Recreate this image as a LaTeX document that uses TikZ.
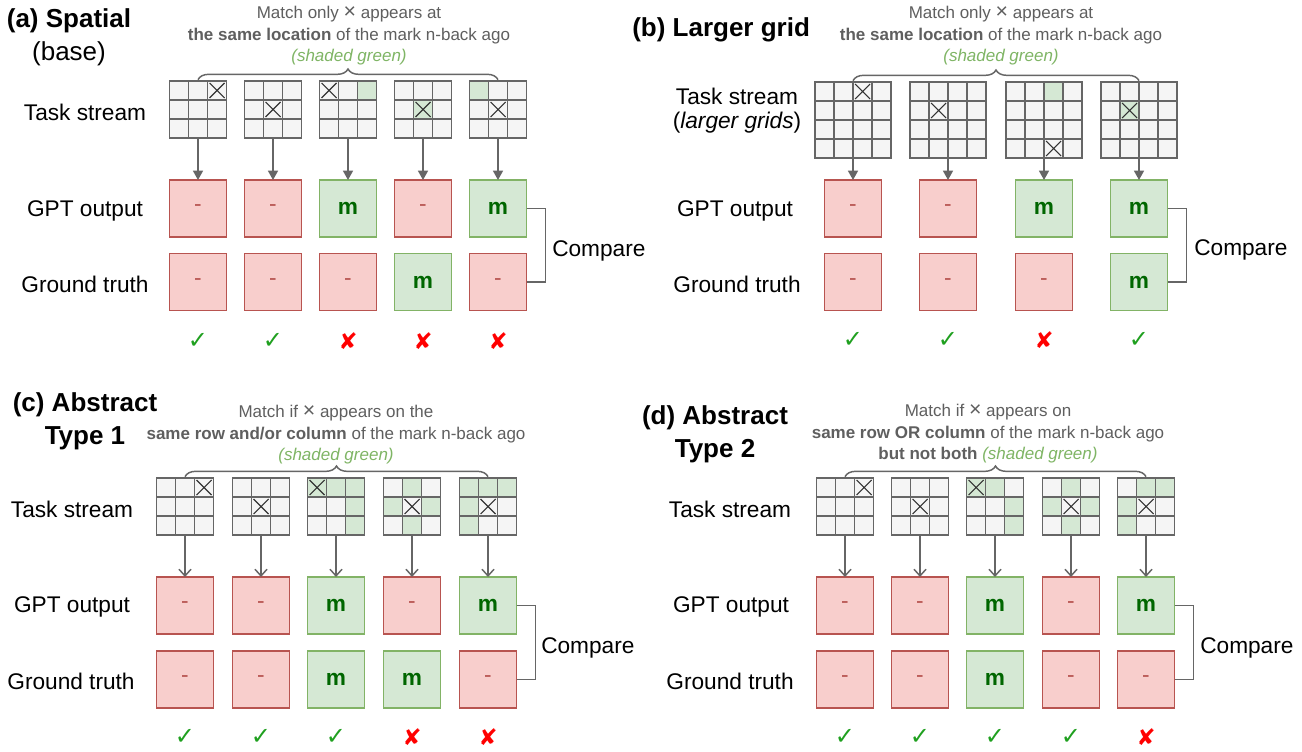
\documentclass[tikz,border=0pt]{standalone}
\usepackage{fontspec}
\setmainfont{Liberation Sans}
\newfontfamily\symfont{DejaVu Sans}
\usepackage{xcolor}
\usetikzlibrary{arrows.meta,decorations.pathreplacing}

\definecolor{gridgray}{HTML}{666666}
\definecolor{cellfill}{HTML}{F5F5F5}
\definecolor{greenfill}{HTML}{D5E8D4}
\definecolor{greenline}{HTML}{82B366}
\definecolor{redfill}{HTML}{F8CECC}
\definecolor{redline}{HTML}{B85450}
\definecolor{mgreen}{HTML}{006600}
\definecolor{headgray}{HTML}{5F5F5F}
\definecolor{shadegreen}{HTML}{7FB565}
\definecolor{checkgreen}{HTML}{1FA01F}
\definecolor{crossred}{HTML}{FF0000}

\newcommand{\xsym}{{\fontsize{16}{16}\selectfont ×}}
\newcommand{\nomatchtxt}{-}
\newcommand{\matchtxt}{m}
\newcommand{\oktxt}{✓}
\newcommand{\badtxt}{✘}

% grid of n x n cells, node #1 centred at x=#2, top at y=#3
\newcommand{\taskgrid}[4]{%
  \node[gridframe=#4, anchor=north] (#1) at (#2,#3) {};
  \foreach \r in {1,...,#4}
    \foreach \c in {1,...,#4}
      \draw[cell] ([shift={({19*(\c-1)},{19*(\r-1)})}]#1.north west) rectangle ++(19,19);}
\newcommand{\greencells}[2]{%
  \foreach \r/\c in {#2}
    \draw[hitcell] ([shift={({19*\c},{19*\r})}]#1.north west) rectangle ++(19,19);}
\newcommand{\xcell}[3]{%
  \draw[xline] ([shift={({19*#3+2},{19*#2+2})}]#1.north west) -- ++(15,15)
               ([shift={({19*#3+17},{19*#2+2})}]#1.north west) -- ++(-15,15);}

\tikzset{
  gridframe/.style={minimum size=#1*14.25pt, inner sep=0pt, outer sep=0pt},
  cell/.style={draw=gridgray, fill=cellfill, line width=1.4pt},
  hitcell/.style={cell, fill=greenfill},
  xline/.style={draw=black!80, line width=0.8pt},
  box/.style={minimum size=42.75pt, inner sep=0pt, outer sep=0pt, line width=1.2pt,
    font=\fontsize{17}{20}\selectfont},
  nomatch/.style={box, fill=redfill, draw=redline, text=redline},
  match/.style={box, fill=greenfill, draw=greenline, text=mgreen,
    font=\fontsize{17}{20}\selectfont\bfseries},
  ok/.style={text=checkgreen, font=\symfont\fontsize{18}{20}\selectfont},
  bad/.style={text=crossred, font=\symfont\fontsize{17}{20}\selectfont},
  feed/.style={draw=gridgray, line width=1.1pt, -{Triangle[length=7pt,width=7.5pt]}},
  feedopen/.style={draw=gridgray, line width=1.1pt, -{Straight Barb[length=5pt,width=9pt]}},
  pair/.style={draw=gridgray, line width=1.1pt},
  cbrace/.style={draw=gridgray, line width=1.1pt, decorate, decoration={brace, amplitude=8pt}},
  rowlabel/.style={inner sep=0pt, align=center, font=\fontsize{17}{18}\selectfont},
  paneltitle/.style={inner sep=0pt, align=center, font=\fontsize{19.5}{24.5}\selectfont\bfseries},
  header/.style={inner sep=0pt, align=center, text=headgray, font=\fontsize{12.75}{16.1}\selectfont},
}

\begin{document}
\begin{tikzpicture}[x=0.75pt, y=-0.75pt]
  \path[fill=white, use as bounding box] (0,0) rectangle (1302,752);

  % (a) Spatial
  \node[paneltitle] (tia) at (69,37) {(a) Spatial\\\mdseries(base)};
  \node[header] (hda) at (349,36) {Match only \xsym{} appears at\\\textbf{the same location} of the mark n-back ago\\{\color{shadegreen}\itshape(shaded green)}};
  \node[rowlabel] (sa) at (85,112) {Task stream};
  \node[rowlabel] (pa) at (85,211) {GPT output};
  \node[rowlabel] (ra) at (85,284) {Ground truth};
  \taskgrid{ga1}{198}{81}{3} \xcell{ga1}{0}{2}
  \taskgrid{ga2}{273}{81}{3} \xcell{ga2}{1}{1}
  \taskgrid{ga3}{348}{81}{3} \greencells{ga3}{0/2} \xcell{ga3}{0}{0}
  \taskgrid{ga4}{423}{81}{3} \greencells{ga4}{1/1} \xcell{ga4}{1}{1}
  \taskgrid{ga5}{498}{81}{3} \greencells{ga5}{0/0} \xcell{ga5}{1}{1}
  \draw[cbrace] ([yshift=1pt]ga1.north) -- ([yshift=1pt]ga5.north);
  \foreach \k/\x/\o/\t/\v in {1/198/nomatch/nomatch/ok, 2/273/nomatch/nomatch/ok,
      3/348/match/nomatch/bad, 4/423/nomatch/match/bad, 5/498/match/nomatch/bad} {
    \node[\o] (oa\k) at (\x,208.5) {\csname\o txt\endcsname};
    \node[\t] (ta\k) at (\x,282) {\csname\t txt\endcsname};
    \node[\v] (ka\k) at (\x,341) {\csname\v txt\endcsname};
    \draw[feed] (ga\k) -- (oa\k);
  }
  \draw[pair] (oa5.east) -- ++(19,0) coordinate (ja) |- (ta5.east);
  \node[rowlabel, anchor=west] (cpa) at (552,251) {Compare};

  % (b) Larger grid
  \node[paneltitle, anchor=west] (tib) at (632,30) {(b) Larger grid};
  \node[header] (hdb) at (1001,36) {Match only \xsym{} appears at\\\textbf{the same location} of the mark n-back ago\\{\color{shadegreen}\itshape(shaded green)}};
  \node[rowlabel] (sb) at (737,111) {Task stream\\(\textit{larger grids})};
  \node[rowlabel] (pb) at (735,211) {GPT output};
  \node[rowlabel] (rb) at (737,284) {Ground truth};
  \taskgrid{gb1}{853}{82}{4} \xcell{gb1}{0}{2}
  \taskgrid{gb2}{948}{82}{4} \xcell{gb2}{1}{1}
  \taskgrid{gb3}{1044}{82}{4} \greencells{gb3}{0/2} \xcell{gb3}{3}{2}
  \taskgrid{gb4}{1139}{82}{4} \greencells{gb4}{1/1} \xcell{gb4}{1}{1}
  \draw[cbrace] ([yshift=1pt]gb1.north) -- ([yshift=1pt]gb4.north);
  \foreach \k/\x/\o/\t/\v in {1/853/nomatch/nomatch/ok, 2/948/nomatch/nomatch/ok,
      3/1044/match/nomatch/bad, 4/1139/match/match/ok} {
    \node[\o] (ob\k) at (\x,208.5) {\csname\o txt\endcsname};
    \node[\t] (tb\k) at (\x,282) {\csname\t txt\endcsname};
    \node[\v] (kb\k) at (\x,340) {\csname\v txt\endcsname};
    \draw[feed] (gb\k) -- (ob\k);
  }
  \draw[pair] (ob4.east) -- ++(19,0) coordinate (jb) |- (tb4.east);
  \node[rowlabel, anchor=west] (cpb) at (1194,250) {Compare};

  % (c) Abstract Type 1
  \node[paneltitle] (tic) at (85,421) {(c) Abstract\\Type 1};
  \node[header] (hdc) at (336,435) {Match if \xsym{} appears on the\\\textbf{same row and/or column} of the mark n-back ago\\{\color{shadegreen}\itshape(shaded green)}};
  \node[rowlabel] (sc) at (72,509) {Task stream};
  \node[rowlabel] (pc) at (72,607) {GPT output};
  \node[rowlabel] (rc) at (71,681) {Ground truth};
  \taskgrid{gc1}{185}{478}{3} \xcell{gc1}{0}{2}
  \taskgrid{gc2}{261}{478}{3} \xcell{gc2}{1}{1}
  \taskgrid{gc3}{336}{478}{3} \greencells{gc3}{0/0,0/1,0/2,1/2,2/2} \xcell{gc3}{0}{0}
  \taskgrid{gc4}{412}{478}{3} \greencells{gc4}{0/1,1/0,1/2,2/1} \xcell{gc4}{1}{1}
  \taskgrid{gc5}{488}{478}{3} \greencells{gc5}{0/0,0/1,0/2,1/0,2/0} \xcell{gc5}{1}{1}
  \draw[cbrace] ([yshift=1pt]gc1.north) -- ([yshift=1pt]gc5.north);
  \foreach \k/\x/\o/\t/\v in {1/185/nomatch/nomatch/ok, 2/261/nomatch/nomatch/ok,
      3/336/match/match/ok, 4/412/nomatch/match/bad, 5/488/match/nomatch/bad} {
    \node[\o] (oc\k) at (\x,605.5) {\csname\o txt\endcsname};
    \node[\t] (tc\k) at (\x,679.5) {\csname\t txt\endcsname};
    \node[\v] (kc\k) at (\x,737) {\csname\v txt\endcsname};
    \draw[feedopen] (gc\k) -- (oc\k);
  }
  \draw[pair] (oc5.east) -- ++(19,0) coordinate (jc) |- (tc5.east);
  \node[rowlabel, anchor=west] (cpc) at (541,648) {Compare};

  % (d) Abstract Type 2
  \node[paneltitle] (tid) at (715,434) {(d) Abstract\\Type 2};
  \node[header] (hdd) at (988,434) {Match if \xsym{} appears on\\\textbf{same row OR column} of the mark n-back ago\\\textbf{but not both} {\color{shadegreen}\itshape(shaded green)}};
  \node[rowlabel] (sd) at (730,509) {Task stream};
  \node[rowlabel] (pd) at (731,607) {GPT output};
  \node[rowlabel] (rd) at (730,681) {Ground truth};
  \taskgrid{gd1}{845}{478}{3} \xcell{gd1}{0}{2}
  \taskgrid{gd2}{920}{478}{3} \xcell{gd2}{1}{1}
  \taskgrid{gd3}{995}{478}{3} \greencells{gd3}{0/0,0/1,1/2,2/2} \xcell{gd3}{0}{0}
  \taskgrid{gd4}{1071}{478}{3} \greencells{gd4}{0/1,1/0,1/2,2/1} \xcell{gd4}{1}{1}
  \taskgrid{gd5}{1146}{478}{3} \greencells{gd5}{0/1,0/2,1/0,2/0} \xcell{gd5}{1}{1}
  \draw[cbrace] ([yshift=1pt]gd1.north) -- ([yshift=1pt]gd5.north);
  \foreach \k/\x/\o/\t/\v in {1/845/nomatch/nomatch/ok, 2/920/nomatch/nomatch/ok,
      3/995/match/match/ok, 4/1071/nomatch/nomatch/ok, 5/1146/match/nomatch/bad} {
    \node[\o] (od\k) at (\x,605.5) {\csname\o txt\endcsname};
    \node[\t] (td\k) at (\x,679.5) {\csname\t txt\endcsname};
    \node[\v] (kd\k) at (\x,737) {\csname\v txt\endcsname};
    \draw[feedopen] (gd\k) -- (od\k);
  }
  \draw[pair] (od5.east) -- ++(19,0) coordinate (jd) |- (td5.east);
  \node[rowlabel, anchor=west] (cpd) at (1200,648) {Compare};
\end{tikzpicture}
\end{document}
